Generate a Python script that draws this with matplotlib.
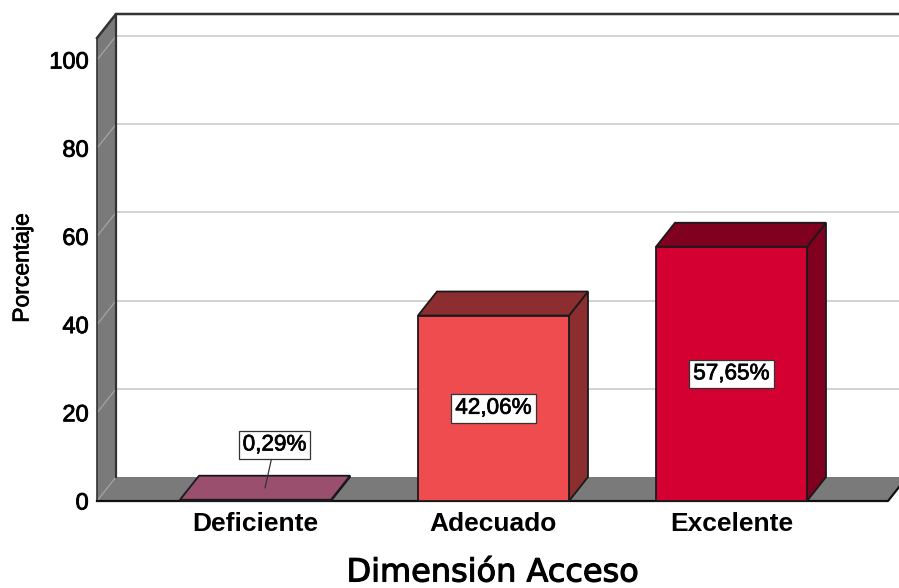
import matplotlib
matplotlib.use('Agg')
import matplotlib.pyplot as plt
import matplotlib.patheffects as pe
from matplotlib.patches import Polygon

categories = ['Deficiente', 'Adecuado', 'Excelente']
values = [0.29, 42.06, 57.65]
y_ticks = [0, 20, 40, 60, 80, 100]
front_colors = ['#9b4f6f', '#ee4c4f', '#d50032']
dark_colors = ['#9b4f6f', '#8c2d2f', '#7f001f']

plt.rcParams['font.family'] = ['Liberation Sans', 'DejaVu Sans']

W, H = 899, 588
PX_X = 238.0   # pixels per category
PX_Y = 4.41    # pixels per percent
DX = 19 / PX_X
DY = 24 / PX_Y
BAR = 151 / PX_X
EDGE = '#1a1a1a'

fig = plt.figure(figsize=(W / 100, H / 100), dpi=100)
ax = fig.add_axes([97 / W, (H - 501) / H, (888 - 97) / W, (501 - 38) / H])
x0 = (97 - 255.5) / PX_X
x1 = (888 - 255.5) / PX_X
y1 = (501 - 38) / PX_Y
ax.set_xlim(x0, x1)
ax.set_ylim(0, y1)
for s in ax.spines.values():
    s.set_visible(False)


def poly(pts, face, edge=EDGE, lw=1.3, z=2):
    ax.add_patch(Polygon(pts, closed=True, facecolor=face, edgecolor=edge,
                         linewidth=lw, clip_on=False, zorder=z, joinstyle='miter'))


def medium(width):
    # the reference text sits between regular and bold
    return [pe.withStroke(linewidth=width, foreground='black')]


# left wall and floor
poly([(x0, 0), (x0 + DX, DY), (x0 + DX, y1 + DY), (x0, y1)], '#7a7a7a', edge='none', z=1)
poly([(x0, 0), (x0 + DX, DY), (x1 + DX, DY), (x1, 0)], '#7a7a7a', edge='none', z=1)

# grid on back wall and wall
for t in y_ticks[1:]:
    ax.plot([x0 + DX, x1 + DX], [t + DY, t + DY], color='#cfcfcf', lw=1.3, clip_on=False, zorder=1)
    ax.plot([x0, x0 + DX], [t, t + DY], color='#a8a8a8', lw=0.8, clip_on=False, zorder=1.5)
ax.plot([x0, x0 + DX], [0, DY], color='#a8a8a8', lw=0.8, clip_on=False, zorder=1.5)

# frame lines
ax.plot([x0 + DX, x0 + DX], [DY, y1 + DY], color='#333333', lw=1.6, clip_on=False, zorder=1.6)
ax.plot([x0, x0 + DX, x1 + DX], [y1, y1 + DY, y1 + DY], color='#333333', lw=1.8, clip_on=False, zorder=1.6)
ax.plot([x0, x0], [0, y1], color='#333333', lw=1.2, clip_on=False, zorder=1.6)
ax.plot([x0, x1, x1 + DX], [0, 0, DY], color='#111111', lw=1.6, clip_on=False, zorder=1.6)

# bars
for i, v in enumerate(values):
    l = i - BAR / 2
    r = i + BAR / 2
    poly([(r, 0), (r + DX, DY), (r + DX, v + DY), (r, v)], dark_colors[i], z=3)
    poly([(l, v), (l + DX, v + DY), (r + DX, v + DY), (r, v)], dark_colors[i], z=3)
    poly([(l, 0), (r, 0), (r, v), (l, v)], front_colors[i], z=3)

box = dict(boxstyle='square,pad=0.17', facecolor='white', edgecolor='#333333', linewidth=0.9)
labels = [f'{v:.2f}%'.replace('.', ',') for v in values]

# small bar gets a leader line
ax.annotate(labels[0], xy=(0.04, 2.95), xytext=(0.08, 12.7), ha='center', va='center',
            fontsize=16.2, bbox=box, zorder=5, path_effects=medium(0.5),
            arrowprops=dict(arrowstyle='-', color='#333333', lw=0.9, shrinkA=0, shrinkB=0))
for i in (1, 2):
    ax.text(i, values[i] / 2, labels[i], ha='center', va='center', fontsize=16.2,
            bbox=box, zorder=5, path_effects=medium(0.5))

ax.set_xticks(range(len(categories)))
ax.set_xticklabels(categories, fontsize=19, fontweight='bold')
ax.set_yticks(y_ticks)
ax.set_yticklabels([str(t) for t in y_ticks], fontsize=17)
for lab in ax.get_yticklabels():
    lab.set_path_effects(medium(0.6))
ax.tick_params(axis='both', length=0)
ax.tick_params(axis='x', pad=8)
ax.tick_params(axis='y', pad=6)

fig.text(493 / W, 1 - 573 / H, 'Dimensión Acceso', ha='center', va='center',
         fontsize=23, family='DejaVu Sans', path_effects=medium(0.8))
fig.text(22 / W, 1 - 268 / H, 'Porcentaje', ha='center', va='center', rotation=90,
         fontsize=16.5, path_effects=medium(0.5))

fig.savefig('out.png', dpi=100)
